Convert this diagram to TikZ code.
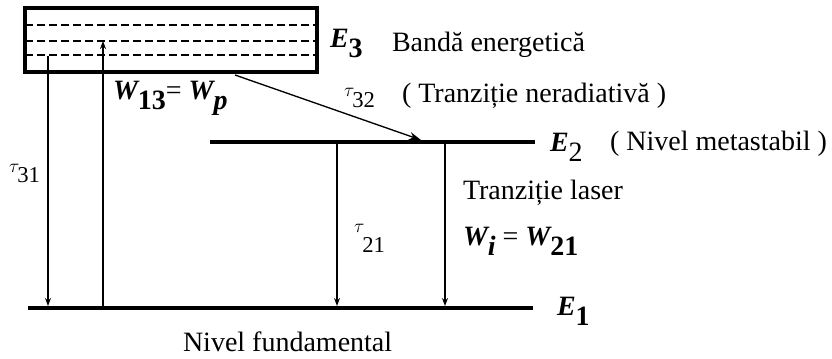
\documentclass[tikz,border=0pt]{standalone}
\usepackage{fontspec}
\setmainfont{Liberation Serif}
\usetikzlibrary{arrows.meta}
\newcommand{\jos}[2][0.35em]{\raisebox{-#1}{#2}}
\newcommand{\tauj}[2]{{\fontsize{14}{14}\selectfont$\tau$}\kern-1.5pt\raisebox{-#1}{\fontsize{17}{17}\selectfont #2}}

\begin{document}
\begin{tikzpicture}[x=0.75pt, y=-0.75pt, font=\fontsize{21}{25}\selectfont,
    every node/.style={inner sep=0pt, outer sep=0pt},
    >={Stealth[length=6pt, width=4.5pt]}]
    \useasboundingbox (0,0) rectangle (832,359);
    % banda E3
    \draw[line width=2.5pt] (25,8) rectangle (317,72);
    \foreach \y in {25,41,55}
        \draw[line width=0.8pt, dash pattern=on 6pt off 3pt] (25,\y) -- (317,\y);
    % nivele
    \coordinate (a1) at (28,308); \coordinate (b1) at (533,308);
    \coordinate (a2) at (210,142); \coordinate (b2) at (535,142);
    \draw[line width=2.4pt] (a1) -- (b1);
    \draw[line width=2.4pt] (a2) -- (b2);
    % capete sageti
    \coordinate (s31) at (48,56);   \coordinate (f31) at (48,306);
    \coordinate (p0) at (103,307);  \coordinate (p1) at (103,41);
    \coordinate (s32) at (235,75);  \coordinate (f32) at (421,140);
    \coordinate (s21) at (337,143); \coordinate (f21) at (337,306);
    \coordinate (sl) at (445,143);  \coordinate (fl) at (445,306);
    \draw[->, line width=1pt] (s31) -- (f31);
    \draw[->, line width=1pt] (p0) -- (p1);
    \draw[->, line width=1pt, >={Stealth[length=9pt, width=6pt]}] (s32) -- (f32);
    \draw[->, line width=1pt] (s21) -- (f21);
    \draw[->, line width=2pt] (sl) -- (fl);
    % etichete
    \node[anchor=base west] (E3) at (330,48) {{\bfseries\itshape E}\jos{\bfseries 3}};
    \node[anchor=base west] (banda) at (392,52) {Bandă energetică};
    \node[anchor=base west] (t32) at (344,97) {\tauj{8pt}{32}};
    \node[anchor=base west] (nerad) at (402,103) {( Tranziție neradiativă )};
    \node[anchor=base west] (E2) at (550,152) {{\bfseries\itshape E}\jos{2}};
    \node[anchor=base west] (meta) at (610,151) {( Nivel metastabil )};
    \node[anchor=base west] (W13) at (113,100) {{\bfseries\itshape W}\jos{\bfseries 13}= {\bfseries\itshape W}\jos{\bfseries\itshape p}};
    \node[anchor=base west] (t31) at (9,173) {\tauj{7.5pt}{31}};
    \node[anchor=base west] (t21) at (354,233) {\tauj{15pt}{21}};
    \node[anchor=base west] (laser) at (463,200) {Tranziție laser};
    \node[anchor=base west] (Wi) at (463,246) {{\bfseries\itshape W}\jos{\bfseries\itshape i} = {\bfseries\itshape W}\jos{\bfseries 21}};
    \node[anchor=base west] (E1) at (557,316) {{\bfseries\itshape E}\jos{\bfseries 1}};
    \node[anchor=base west] (fund) at (183,352) {Nivel fundamental};
\end{tikzpicture}
\end{document}
